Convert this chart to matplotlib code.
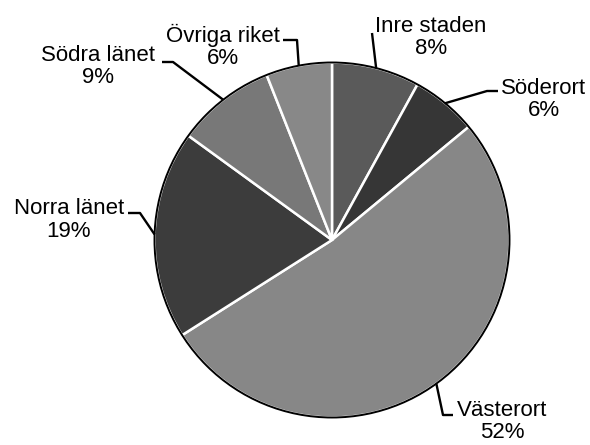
import numpy as np
import matplotlib
matplotlib.use("Agg")
import matplotlib.pyplot as plt
from matplotlib.patches import Circle

# Data
categories = ["Inre staden", "Söderort", "Västerort", "Norra länet", "Södra länet", "Övriga riket"]
values = [8, 6, 52, 19, 9, 6]
colors = ["#5a5a5a", "#363636", "#878787", "#3c3c3c", "#787878", "#888888"]

plt.rcParams['font.family'] = ['Liberation Sans', 'DejaVu Sans']

W, H = 590, 445
CX, CY, R = 332, 240, 177.5

def px(x, y):
    return ((x - CX) / R, (CY - y) / R)

fig = plt.figure(figsize=(W / 100, H / 100), dpi=100)
ax = fig.add_axes([0, 0, 1, 1])

wedges, _ = ax.pie(values, startangle=90, counterclock=False, colors=colors,
                   radius=1, center=(0, 0), frame=True,
                   wedgeprops=dict(edgecolor='white', linewidth=1.8))
ax.set_xlim(-CX / R, (W - CX) / R)
ax.set_ylim((CY - H) / R, CY / R)
ax.set_aspect('auto')
ax.axis('off')
ax.add_patch(Circle((0, 0), 1, fill=False, edgecolor='black', linewidth=1.4, zorder=5))

# label layout (pixel coords): text center, start of leader, elbow
layout = {
    "Inre staden": dict(text=(431, 37.5), start=(372, 33), elbow=None),
    "Söderort": dict(text=(544, 99.5), start=(498, 91), elbow=(487, 91)),
    "Västerort": dict(text=(502, 421.5), start=(453, 415), elbow=(443, 415)),
    "Norra länet": dict(text=(69, 220), start=(128, 213), elbow=(140, 213)),
    "Södra länet": dict(text=(98, 66.5), start=(162, 62), elbow=(173, 62)),
    "Övriga riket": dict(text=(223, 46.5), start=(283, 40), elbow=(297, 40)),
}

for w, cat, v in zip(wedges, categories, values):
    mid = np.deg2rad((w.theta1 + w.theta2) / 2)
    edge = (np.cos(mid), np.sin(mid))
    L = layout[cat]
    tx, ty = px(*L["text"])
    ax.text(tx, ty, f"{cat}\n{v}%", ha='center', va='center', fontsize=16,
            linespacing=1.1, color='black', zorder=6)
    pts = [px(*L["start"])]
    if L["elbow"] is not None:
        pts.append(px(*L["elbow"]))
    pts.append(edge)
    xs, ys = zip(*pts)
    ax.plot(xs, ys, color='black', linewidth=1.7, zorder=6, solid_capstyle='butt')

fig.savefig("out.png", dpi=100)
